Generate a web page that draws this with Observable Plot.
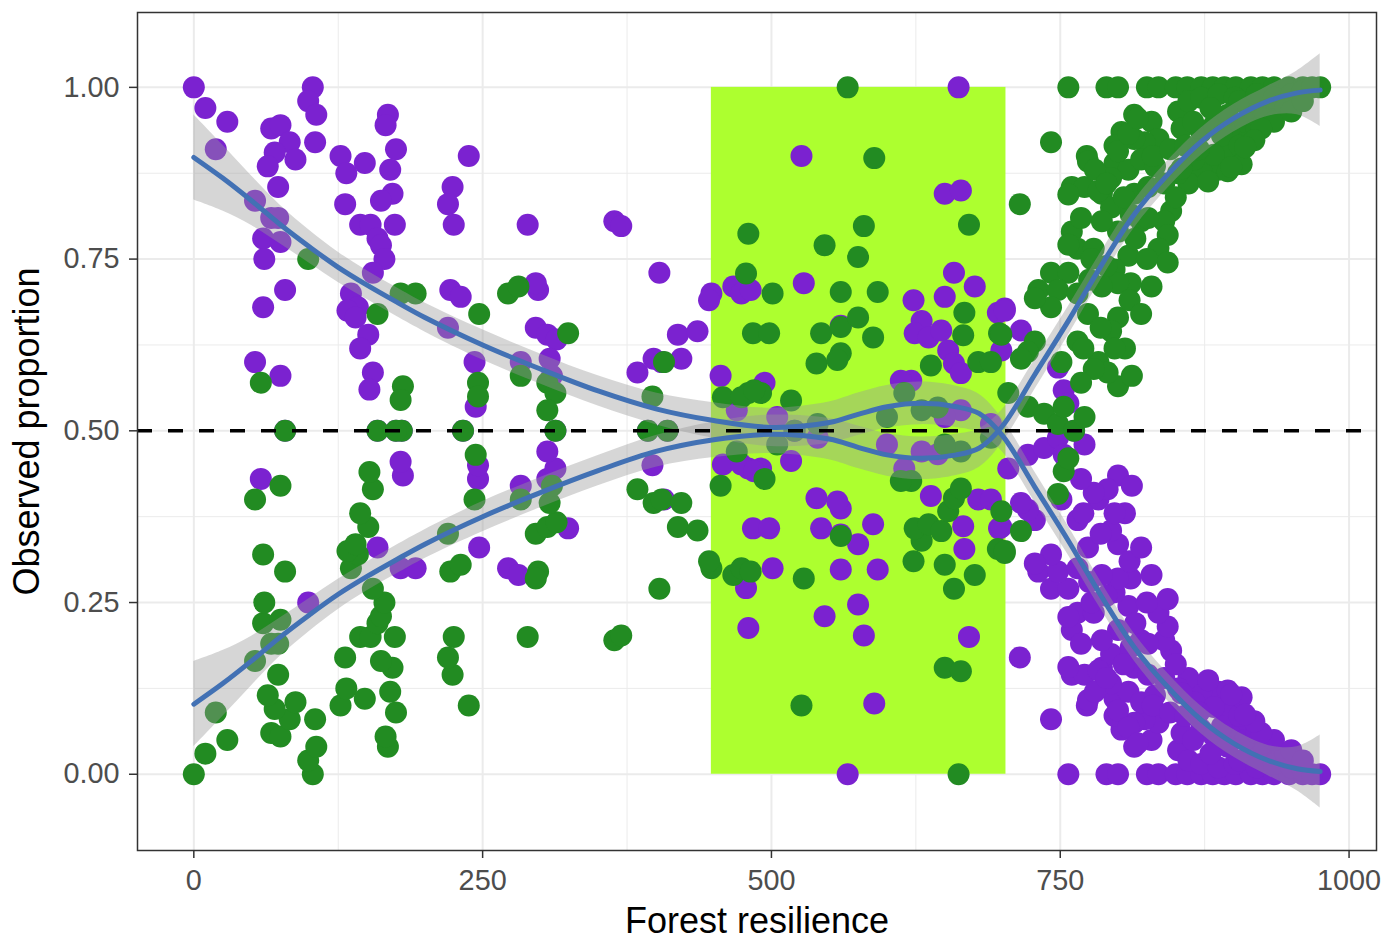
<!DOCTYPE html>
<html>
<head>
<meta charset="utf-8">
<script src="https://cdn.jsdelivr.net/npm/d3@7"></script>
<script src="https://cdn.jsdelivr.net/npm/@observablehq/plot@0.6"></script>
<style>
  html, body { margin: 0; padding: 0; background: #ffffff; overflow: hidden; }
  #chart svg { display: block; }
</style>
</head>
<body>
<div id="chart"></div>
<script>
// ---- Data ----
const resilience = [
  0,10,29,19,67,75,83,70,88,64,103,99,106,105,73,53,67,73,60,75,61,79,60,99,53,58,75,79,
  127,132,148,131,168,166,175,170,172,162,144,153,174,159,162,165,155,136,142,133,140,151,144,155,152,180,179,192,159,181,179,159,175,
  238,224,220,225,222,231,220,243,244,233,247,246,246,
  289,298,296,296,306,314,283,308,324,272,281,283,306,310,313,306,313,364,370,
  403,384,398,405,422,419,436,448,446,456,397,407,393,410,
  526,662,650,664,658,676,467,474,482,528,623,650,696,702,560,630,624,636,647,653,
  658,664,494,621,612,664,566,589,671,480,580,546,575,478,501,560,592,667,484,498,
  543,560,575,588,560,539,557,666,638,679,690,697,480,491,517,615,644,458,474,485,
  520,540,600,650,690,505,630,470,
  757,790,800,825,835,850,860,872,882,892,902,915,925,935,948,960,975,
  715,742,814,829,852,861,872,887,901,918,930,941,855,872,883,901,913,895,887,872,
  861,852,866,835,823,803,797,814,773,797,809,820,832,760,771,786,794,814,826,846,
  840,843,835,843,829,811,809,820,811,800,786,760,768,765,779,777,797,800,786,742,
  757,731,748,765,742,774,800,794,806,797,765,783,800,791,779,768,751,728,722,716,
  705,722,736,748,762,771,753,699,702,716,699,748,753,757,905,920,935,950,960,968,
  945,925,910,895,880,865,890,905,920,935,950,960,878,895,907,924,883,855,826,728,
  757,757,774,800,809,817,783,794,898,918,910,
  780,790,805,815,825,790,775,810,820,785,770,812,830,845,858,870,840,850
];

const purpleShare = [
  1.00,0.97,0.95,0.91,0.94,0.945,0.92,0.905,0.895,0.885,1.00,0.98,0.96,0.92,0.855,0.835,0.81,0.81,0.78,0.775,0.75,0.705,0.68,0.25,0.60,0.43,0.58,0.50,
  0.90,0.875,0.89,0.83,0.96,0.945,0.91,0.88,0.845,0.835,0.80,0.80,0.80,0.78,0.77,0.75,0.73,0.70,0.68,0.675,0.665,0.64,0.62,0.585,0.56,0.50,0.30,0.30,0.33,0.435,0.455,0.50,0.50,
  0.90,0.855,0.83,0.80,0.705,0.695,0.65,0.60,0.535,0.50,0.33,0.43,0.45,
  0.80,0.705,0.715,0.65,0.64,0.633,0.60,0.605,0.358,0.30,0.29,0.42,0.43,0.58,0.445,0.47,0.50,0.805,0.798,
  0.73,0.585,0.605,0.60,0.605,0.64,0.645,0.70,0.69,0.58,0.45,0.40,0.50,0.50,
  0.90,1.00,0.845,0.85,0.73,0.71,0.71,0.70,0.705,0.715,0.69,0.695,0.672,0.678,0.653,0.66,0.642,0.636,0.646,0.617,
  0.598,0.584,0.57,0.573,0.573,0.53,0.00,0.103,0.20,0.213,0.202,0.23,0.247,0.271,0.30,0.298,0.298,0.328,0.358,0.358,
  0.358,0.349,0.335,0.364,0.387,0.402,0.397,0.361,0.405,0.40,0.40,0.358,0.445,0.445,0.456,0.445,0.466,0.451,0.451,0.441,
  0.50,0.49,0.48,0.52,0.51,0.52,0.47,0.53,
  0,0,0,0,0,0,0,0,0,0,0,0,0,0,0,0,0,
  0.17,0.08,0.04,0.05,0.035,0.02,0.015,0.01,0.015,0.03,0.04,0.025,0.06,0.065,0.055,0.06,0.075,0.095,0.12,0.12,
  0.14,0.125,0.105,0.075,0.08,0.065,0.085,0.075,0.10,0.11,0.12,0.105,0.115,0.145,0.145,0.155,0.175,0.155,0.145,0.18,
  0.195,0.215,0.235,0.255,0.29,0.285,0.245,0.195,0.185,0.21,0.195,0.21,0.19,0.235,0.235,0.25,0.265,0.285,0.29,0.27,
  0.27,0.295,0.295,0.30,0.32,0.33,0.335,0.355,0.38,0.38,0.37,0.40,0.435,0.415,0.41,0.43,0.40,0.37,0.385,0.395,
  0.445,0.465,0.475,0.49,0.50,0.48,0.465,0.36,0.675,0.646,0.617,0.592,0.559,0.54,0.02,0.01,0.015,0.01,0.005,0.00,
  0.03,0.045,0.05,0.04,0.03,0.05,0.07,0.085,0.06,0.05,0.035,0.02,0.137,0.122,0.112,0.06,0.098,0.118,0.19,0.307,
  0.229,0.156,0.108,0.093,0.068,0.045,0.151,0.132,0.116,0.077,0.087,
  0.12,0.14,0.16,0.22,0.25,0.26,0.28,0.31,0.33,0.35,0.38,0.42,0.10,0.09,0.085,0.09,0.14,0.16
];

const greenShare = [
  0.00,0.03,0.05,0.09,0.06,0.055,0.08,0.095,0.105,0.115,0.00,0.02,0.04,0.08,0.145,0.165,0.19,0.19,0.22,0.225,0.25,0.295,0.32,0.75,0.40,0.57,0.42,0.50,
  0.10,0.125,0.11,0.17,0.04,0.055,0.09,0.12,0.155,0.165,0.20,0.20,0.20,0.22,0.23,0.25,0.27,0.30,0.32,0.325,0.335,0.36,0.38,0.415,0.44,0.50,0.70,0.70,0.67,0.565,0.545,0.50,0.50,
  0.10,0.145,0.17,0.20,0.295,0.305,0.35,0.40,0.465,0.50,0.67,0.57,0.55,
  0.20,0.295,0.285,0.35,0.36,0.367,0.40,0.395,0.642,0.70,0.71,0.58,0.57,0.42,0.555,0.53,0.50,0.195,0.202,
  0.27,0.415,0.395,0.40,0.395,0.36,0.355,0.30,0.31,0.42,0.55,0.60,0.50,0.50,
  0.10,0.00,0.155,0.15,0.27,0.29,0.29,0.30,0.295,0.285,0.31,0.305,0.328,0.322,0.347,0.34,0.358,0.364,0.354,0.383,
  0.402,0.416,0.43,0.427,0.427,0.47,1.00,0.897,0.80,0.787,0.798,0.77,0.753,0.729,0.70,0.702,0.702,0.672,0.642,0.642,
  0.642,0.651,0.665,0.636,0.613,0.598,0.603,0.639,0.595,0.60,0.60,0.642,0.555,0.555,0.544,0.555,0.534,0.549,0.549,0.559,
  0.50,0.51,0.52,0.48,0.49,0.48,0.53,0.47,
  1,1,1,1,1,1,1,1,1,1,1,1,1,1,1,1,1,
  0.83,0.92,0.96,0.95,0.965,0.98,0.985,0.99,0.985,0.97,0.96,0.975,0.94,0.935,0.945,0.94,0.925,0.905,0.88,0.88,
  0.86,0.875,0.895,0.925,0.92,0.935,0.915,0.925,0.90,0.89,0.88,0.895,0.885,0.855,0.855,0.845,0.825,0.845,0.855,0.82,
  0.805,0.785,0.765,0.745,0.71,0.715,0.755,0.805,0.815,0.79,0.805,0.79,0.81,0.765,0.765,0.75,0.735,0.715,0.71,0.73,
  0.73,0.705,0.705,0.70,0.68,0.67,0.665,0.645,0.62,0.62,0.63,0.60,0.565,0.585,0.59,0.57,0.60,0.63,0.615,0.605,
  0.555,0.535,0.525,0.51,0.50,0.52,0.535,0.64,0.325,0.354,0.383,0.408,0.441,0.46,0.98,0.99,0.985,0.99,0.995,1.00,
  0.97,0.955,0.95,0.96,0.97,0.95,0.93,0.915,0.94,0.95,0.965,0.98,0.863,0.878,0.888,0.94,0.902,0.882,0.81,0.693,
  0.771,0.844,0.892,0.907,0.932,0.955,0.849,0.868,0.884,0.923,0.913,
  0.88,0.86,0.84,0.78,0.75,0.74,0.72,0.69,0.67,0.65,0.62,0.58,0.90,0.91,0.915,0.91,0.86,0.84
];

// Smoothed trends and their confidence band half-widths
const curveX = [0,25,50,75,100,125,150,175,200,250,300,350,400,450,500,550,575,600,630,660,680,700,728,757,786,814,843,872,900,930,955,975];
const curvePurple = [0.898,0.868,0.835,0.800,0.768,0.738,0.712,0.688,0.665,0.625,0.590,0.558,0.532,0.515,0.505,0.512,0.524,0.535,0.540,0.535,0.525,0.493,0.418,0.340,0.258,0.185,0.127,0.079,0.045,0.020,0.008,0.004];
const curveGreen = [0.102,0.132,0.165,0.200,0.232,0.262,0.288,0.312,0.335,0.375,0.410,0.442,0.470,0.487,0.495,0.488,0.476,0.465,0.460,0.465,0.475,0.507,0.582,0.660,0.742,0.815,0.873,0.921,0.955,0.980,0.992,0.996];
const bandHalf = [0.062,0.048,0.036,0.028,0.024,0.022,0.021,0.021,0.021,0.022,0.022,0.022,0.023,0.026,0.028,0.030,0.031,0.031,0.031,0.030,0.028,0.024,0.022,0.021,0.020,0.020,0.020,0.020,0.020,0.022,0.032,0.053];

// Highlighted zone and reference level
const zoneBounds = [448, 703];
const referenceLevel = [0.5];

// Axis ticks
const tickX = [0, 250, 500, 750, 1000];
const tickY = [0, 0.25, 0.5, 0.75, 1];
const minorX = [125, 375, 625, 875];
const minorY = [0.125, 0.375, 0.625, 0.875];

const xTitle = "Forest resilience";
const yTitle = "Observed proportion";

// ---- Build tables ----
const purplePts = resilience.map((x, i) => ({x, y: purpleShare[i]}));
const greenPts = resilience.map((x, i) => ({x, y: greenShare[i]}));
const trend = curveX.map((x, i) => ({x, p: curvePurple[i], g: curveGreen[i], h: bandHalf[i]}));

const PURPLE = "#7B22D0";
const GREEN = "#228B22";
const ZONE = "#ADFF2F";
const LINE = "#4271B4";
const GRID = "#EBEBEB";

const chart = Plot.plot({
  width: 1393,
  height: 939,
  marginLeft: 137,
  marginRight: 17,
  marginTop: 12,
  marginBottom: 89,
  x: {domain: [-48.75, 1023.75]},
  y: {domain: [-0.111, 1.109]},
  style: {fontFamily: "'Liberation Sans', Arial, sans-serif", background: "#ffffff", overflow: "visible"},
  marks: [
    Plot.gridX({ticks: minorX, stroke: GRID, strokeOpacity: 1, strokeWidth: 1}),
    Plot.gridY({ticks: minorY, stroke: GRID, strokeOpacity: 1, strokeWidth: 1}),
    Plot.gridX({ticks: tickX, stroke: GRID, strokeOpacity: 1, strokeWidth: 2}),
    Plot.gridY({ticks: tickY, stroke: GRID, strokeOpacity: 1, strokeWidth: 2}),
    Plot.rect([zoneBounds], {x1: d => d[0], x2: d => d[1], y1: () => 0, y2: () => 1, fill: ZONE}),
    Plot.dot(purplePts, {x: "x", y: "y", r: 11, fill: PURPLE, stroke: null}),
    Plot.dot(greenPts, {x: "x", y: "y", r: 11, fill: GREEN, stroke: null}),
    Plot.areaY(trend, {x: "x", y1: d => d.p - d.h, y2: d => d.p + d.h, fill: "#999999", fillOpacity: 0.4, curve: "catmull-rom"}),
    Plot.areaY(trend, {x: "x", y1: d => d.g - d.h, y2: d => d.g + d.h, fill: "#999999", fillOpacity: 0.4, curve: "catmull-rom"}),
    Plot.line(trend, {x: "x", y: "p", stroke: LINE, strokeWidth: 5, curve: "catmull-rom"}),
    Plot.line(trend, {x: "x", y: "g", stroke: LINE, strokeWidth: 5, curve: "catmull-rom"}),
    Plot.ruleY(referenceLevel, {stroke: "#000000", strokeWidth: 3.5, strokeDasharray: "15,16"}),
    Plot.frame({stroke: "#333333", strokeWidth: 1.5}),
    Plot.axisX({ticks: tickX, tickSize: 8, tickPadding: 11, fontSize: 28.8, stroke: "#333333", strokeWidth: 1.5, fill: "#4D4D4D", tickFormat: d => String(d), label: null}),
    Plot.axisY({ticks: tickY, tickSize: 8, tickPadding: 10, fontSize: 28.8, stroke: "#333333", strokeWidth: 1.5, fill: "#4D4D4D", tickFormat: d => d.toFixed(2), label: null}),
    Plot.text([xTitle], {text: d => d, frameAnchor: "bottom", lineAnchor: "middle", textAnchor: "middle", dy: 71, fontSize: 36, fill: "#000000"}),
    Plot.text([yTitle], {text: d => d, frameAnchor: "left", lineAnchor: "middle", textAnchor: "middle", dx: -110, rotate: -90, fontSize: 36, fill: "#000000"})
  ]
});

document.getElementById("chart").appendChild(chart);
</script>
</body>
</html>
